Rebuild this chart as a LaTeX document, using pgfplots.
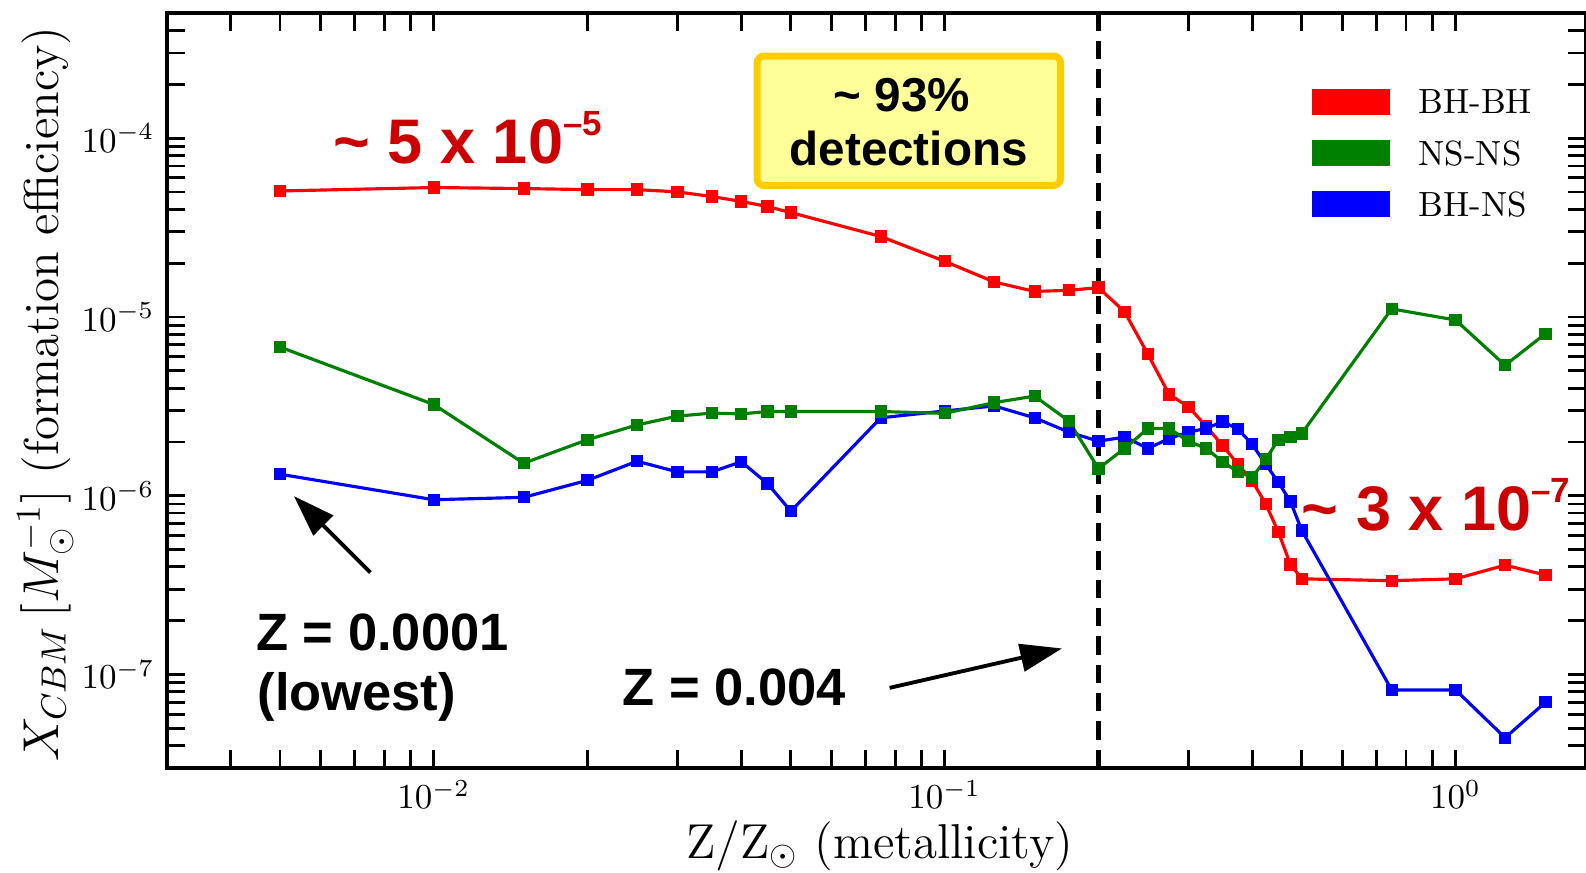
\documentclass[border=0pt]{standalone}
\usepackage{fontspec}
\newfontfamily\arialfont{Liberation Sans}
\usepackage{pgfplots}
\usepackage{pgfplotstable}
\pgfplotsset{compat=1.18}
\usetikzlibrary{arrows.meta}
\definecolor{annred}{RGB}{204,0,0}
\definecolor{boxfill}{RGB}{255,255,153}
\definecolor{boxedge}{RGB}{255,204,0}
\definecolor{pgreen}{RGB}{0,128,0}
\newcommand{\sci}[1]{\raisebox{8pt}{\fontsize{10}{12}\selectfont #1}}

\pgfplotstableread{
x     bhbh     nsns     bhns
0.005 5.07e-5  6.79e-6  1.32e-6
0.01  5.30e-5  3.24e-6  9.5e-7
0.015 5.23e-5  1.52e-6  9.8e-7
0.02  5.16e-5  2.06e-6  1.22e-6
0.025 5.16e-5  2.49e-6  1.56e-6
0.03  5.01e-5  2.79e-6  1.36e-6
0.035 4.72e-5  2.90e-6  1.36e-6
0.04  4.43e-5  2.87e-6  1.55e-6
0.045 4.15e-5  2.96e-6  1.17e-6
0.05  3.84e-5  2.96e-6  8.2e-7
0.075 2.82e-5  2.96e-6  2.73e-6
0.1   2.05e-5  2.89e-6  2.98e-6
0.125 1.57e-5  3.32e-6  3.18e-6
0.15  1.39e-5  3.61e-6  2.73e-6
0.175 1.41e-5  2.62e-6  2.27e-6
0.2   1.46e-5  1.42e-6  2.02e-6
0.225 1.07e-5  1.84e-6  2.13e-6
0.25  6.18e-6  2.38e-6  1.84e-6
0.275 3.69e-6  2.38e-6  2.09e-6
0.3   3.15e-6  2.02e-6  2.27e-6
0.325 2.45e-6  1.84e-6  2.38e-6
0.35  1.91e-6  1.55e-6  2.60e-6
0.375 1.50e-6  1.36e-6  2.36e-6
0.4   1.21e-6  1.27e-6  1.94e-6
0.425 9.0e-7   1.60e-6  1.50e-6
0.45  6.27e-7  2.06e-6  1.19e-6
0.475 4.13e-7  2.13e-6  9.3e-7
0.5   3.43e-7  2.23e-6  6.4e-7
0.75  3.35e-7  1.11e-5  8.2e-8
1.0   3.43e-7  9.62e-6  8.2e-8
1.25  4.09e-7  5.37e-6  4.43e-8
1.5   3.60e-7  8.07e-6  7.0e-8
}\data

\begin{document}
\begin{tikzpicture}
\path[use as bounding box] (-47.6pt,-29.8pt) rectangle (405.5pt,219.4pt);
\begin{axis}[
  at={(0,0)}, anchor=south west,
  scale only axis, width=405.5pt, height=215.6pt,
  xmode=log, ymode=log,
  xmin=0.003, xmax=1.8, ymin=3e-8, ymax=5e-4,
  clip=false,
  tick align=inside,
  major tick length=5.2pt, minor tick length=5.2pt,
  tick style={black, line width=0.8pt},
  axis line style={line width=1.1pt},
  xlabel={$\mathrm{Z/Z_{\odot}}$ (metallicity)},
  ylabel={$X_{CBM}\,[M_{\odot}^{-1}]$ (formation efficiency)},
  xlabel style={at={(axis description cs:0.5023,-0.1195)}, anchor=base, font=\fontsize{14}{16}\selectfont},
  ylabel style={at={(axis description cs:-0.0764,0.4954)}, anchor=base, font=\fontsize{14}{16}\selectfont},
  legend style={draw=none, fill=none, at={(0.8067,0.9010)}, anchor=north west,
    inner sep=0pt, row sep=7.2pt, column sep=8.2pt,
    nodes={inner sep=0pt, text depth=0pt, font=\fontsize{10}{12}\selectfont}},
  legend cell align=left,
]
\addplot[red, line width=0.9pt, mark=square*, mark size=1.3pt, mark options={solid}, forget plot] table[x=x, y=bhbh]{\data};
\addplot[blue, line width=0.9pt, mark=square*, mark size=1.3pt, mark options={solid}, forget plot] table[x=x, y=bhns]{\data};
\addplot[pgreen, line width=0.9pt, mark=square*, mark size=1.3pt, mark options={solid}, forget plot] table[x=x, y=nsns]{\data};
\addplot[black, line width=1.5pt, dash pattern=on 5.2pt off 2.9pt, forget plot] coordinates {(0.2,3e-8) (0.2,5e-4)};

\addlegendimage{legend image code/.code={\fill[red] (0pt,-3.5pt) rectangle (21.7pt,3.5pt);}}
\addlegendentry{BH-BH}
\addlegendimage{legend image code/.code={\fill[pgreen] (0pt,-3.5pt) rectangle (21.7pt,3.5pt);}}
\addlegendentry{NS-NS}
\addlegendimage{legend image code/.code={\fill[blue] (0pt,-3.5pt) rectangle (21.7pt,3.5pt);}}
\addlegendentry{BH-NS}

\draw[boxedge, fill=boxfill, line width=2pt, rounded corners=2pt] (rel axis cs:0.4160,0.7718) rectangle (rel axis cs:0.6298,0.9434);
\node[anchor=base, inner sep=0pt, font={\arialfont\bfseries\fontsize{13.6}{16}\selectfont}] at (rel axis cs:0.5181,0.8696) {\textasciitilde{} 93\%};
\node[anchor=base, inner sep=0pt, font={\arialfont\bfseries\fontsize{13.6}{16}\selectfont}] at (rel axis cs:0.5228,0.7989) {detections};

\node[anchor=base west, inner sep=0pt, text=annred, font={\arialfont\bfseries\fontsize{18}{21}\selectfont}] at (rel axis cs:0.1172,0.8016) {\textasciitilde{} 5 x 10\sci{–5}};
\node[anchor=base west, inner sep=0pt, text=annred, font={\arialfont\bfseries\fontsize{18}{21}\selectfont}] at (rel axis cs:0.7993,0.3152) {\textasciitilde{} 3 x 10\sci{–7}};

\node[anchor=base west, inner sep=0pt, font={\arialfont\bfseries\fontsize{15}{18}\selectfont}] at (rel axis cs:0.0626,0.1561) {Z = 0.0001};
\node[anchor=base west, inner sep=0pt, font={\arialfont\bfseries\fontsize{15}{18}\selectfont}] at (rel axis cs:0.0636,0.0766) {(lowest)};
\node[anchor=base west, inner sep=0pt, font={\arialfont\bfseries\fontsize{15}{18}\selectfont}] at (rel axis cs:0.3208,0.0832) {Z = 0.004};

\draw[line width=1.1pt, -{Triangle[length=11.9pt, width=7.9pt]}] (rel axis cs:0.1436,0.2591) -- (rel axis cs:0.0897,0.3602);
\draw[line width=1.1pt, -{Triangle[length=11.9pt, width=7.9pt]}] (rel axis cs:0.5094,0.1062) -- (rel axis cs:0.6308,0.1584);
\end{axis}
\end{tikzpicture}
\end{document}
